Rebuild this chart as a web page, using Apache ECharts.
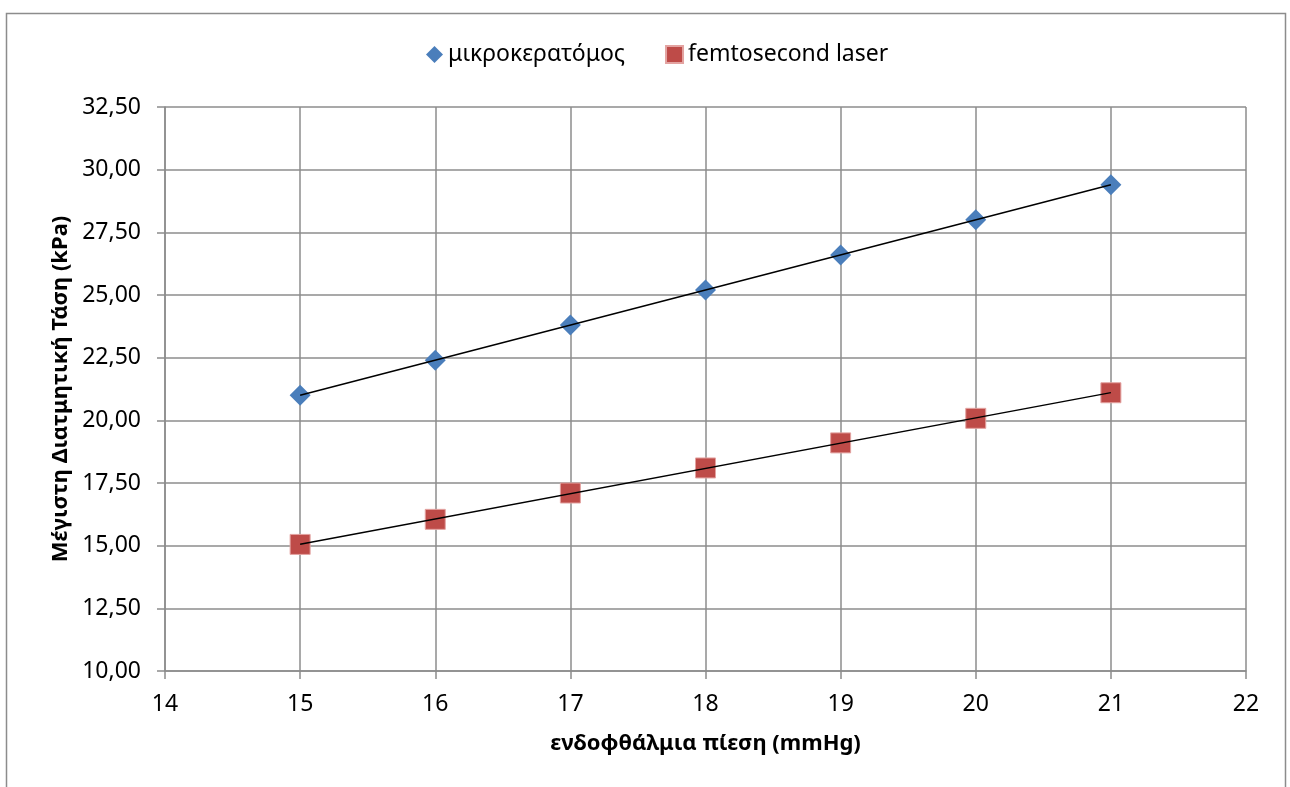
<!DOCTYPE html>
<html>
<head>
<meta charset="utf-8">
<script src="https://cdn.jsdelivr.net/npm/echarts@6/dist/echarts.min.js"></script>
<style>
html,body{margin:0;padding:0;background:#fff;}
#chart{width:1290px;height:787px;}
</style>
</head>
<body>
<div id="chart"></div>
<script>
const pressure = [15, 16, 17, 18, 19, 20, 21];
const microkeratome = [21.0, 22.4, 23.8, 25.2, 26.6, 28.0, 29.4];
const femtosecond = [15.05, 16.05, 17.1, 18.1, 19.1, 20.08, 21.1];
const seriesNames = ['μικροκερατόμος', 'femtosecond laser'];
const xTitle = 'ενδοφθάλμια πίεση (mmHg)';
const yTitle = 'Μέγιστη Διατμητική Τάση (kPa)';

function linFit(xs, ys) {
  const n = xs.length;
  let sx = 0, sy = 0, sxx = 0, sxy = 0;
  for (let i = 0; i < n; i++) { sx += xs[i]; sy += ys[i]; sxx += xs[i]*xs[i]; sxy += xs[i]*ys[i]; }
  const b = (n*sxy - sx*sy) / (n*sxx - sx*sx);
  const a = (sy - b*sx) / n;
  const x0 = xs[0], x1 = xs[n-1];
  return [[x0, a + b*x0], [x1, a + b*x1]];
}

const FONT = 'Noto Sans';
const grey = '#8c8c8c';
const chart = echarts.init(document.getElementById('chart'), null, {renderer: 'canvas'});
chart.setOption({
  backgroundColor: '#fff',
  animation: false,
  textStyle: {fontFamily: FONT},
  graphic: [{
    type: 'rect', silent: true, z: -1,
    shape: {x: 6.5, y: 13.5, width: 1279, height: 800},
    style: {fill: '#fff', stroke: grey, lineWidth: 1.5}
  }],
  legend: {
    top: 38, left: 421, itemGap: 40, itemWidth: 17, itemHeight: 17,
    textStyle: {fontFamily: FONT, fontSize: 23, color: '#000'},
    data: [
      {name: seriesNames[0], icon: 'diamond'},
      {name: seriesNames[1], icon: 'rect'}
    ]
  },
  grid: {left: 165, right: 44, top: 107, bottom: 116, containLabel: false},
  xAxis: {
    type: 'value', min: 14, max: 22, interval: 1,
    name: xTitle, nameLocation: 'middle', nameGap: 62,
    nameTextStyle: {fontFamily: FONT, fontSize: 22, fontWeight: 'bold', color: '#000'},
    axisLine: {lineStyle: {color: grey, width: 1.5}},
    axisTick: {show: true, length: 8, lineStyle: {color: grey, width: 1.5}},
    axisLabel: {fontFamily: FONT, fontSize: 23, color: '#000', margin: 22},
    splitLine: {show: true, lineStyle: {color: grey, width: 1.5}}
  },
  yAxis: {
    type: 'value', min: 10, max: 32.5, interval: 2.5,
    name: yTitle, nameLocation: 'middle', nameGap: 92, nameRotate: 90,
    nameTextStyle: {fontFamily: FONT, fontSize: 22, fontWeight: 'bold', color: '#000'},
    axisLine: {show: true, lineStyle: {color: grey, width: 1.5}},
    axisTick: {show: true, length: 8, lineStyle: {color: grey, width: 1.5}},
    axisLabel: {fontFamily: FONT, fontSize: 23, color: '#000', margin: 24,
      formatter: v => v.toFixed(2).replace('.', ',')},
    splitLine: {show: true, lineStyle: {color: grey, width: 1.5}}
  },
  series: [
    {
      name: seriesNames[0], type: 'scatter', symbol: 'diamond', symbolSize: 21, z: 3,
      itemStyle: {color: '#4A7EBB', opacity: 1},
      data: pressure.map((x, i) => [x, microkeratome[i]])
    },
    {
      name: seriesNames[1], type: 'scatter', symbol: 'rect', symbolSize: 20, z: 3,
      itemStyle: {color: '#BE4B48', borderColor: '#e3a3a1', borderWidth: 1, opacity: 1},
      data: pressure.map((x, i) => [x, femtosecond[i]])
    },
    {
      name: 'trend1', type: 'line', symbol: 'none', z: 4, silent: true,
      lineStyle: {color: '#000', width: 1.5},
      data: linFit(pressure, microkeratome)
    },
    {
      name: 'trend2', type: 'line', symbol: 'none', z: 4, silent: true,
      lineStyle: {color: '#000', width: 1.5},
      data: linFit(pressure, femtosecond)
    }
  ]
});
</script>
</body>
</html>
